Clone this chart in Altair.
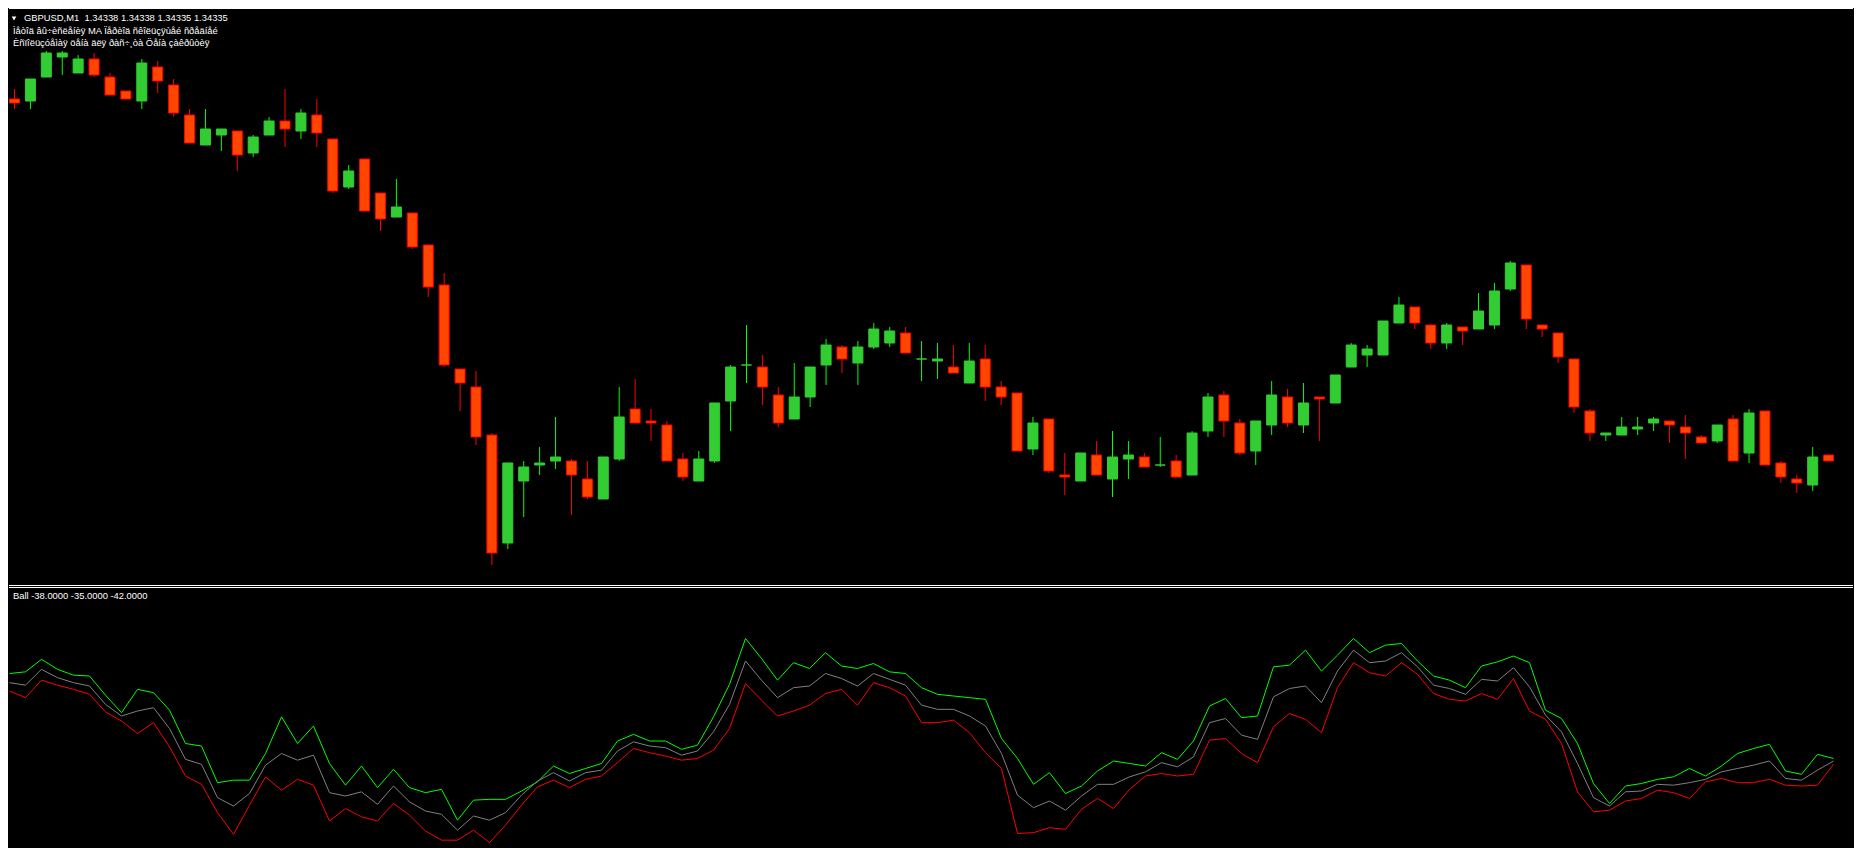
import altair as alt
import pandas as pd

# ---- GBPUSD M1 candles (prices) ----
opens = [1.34516,1.34515,1.34527,1.34537,1.34529,1.34536,1.34527,1.34520,1.34515,1.34532,
         1.34523,1.34508,1.34493,1.34498,1.34500,1.34489,1.34498,1.34505,1.34500,1.34508,
         1.34496,1.34472,1.34486,1.34469,1.34457,1.34459,1.34443,1.34423,1.34381,1.34372,
         1.34348,1.34294,1.34325,1.34333,1.34335,1.34335,1.34326,1.34316,1.34336,1.34361,
         1.34355,1.34353,1.34336,1.34325,1.34335,1.34365,1.34383,1.34382,1.34368,1.34356,
         1.34367,1.34383,1.34392,1.34384,1.34392,1.34394,1.34399,1.34386,1.34385,1.34382,
         1.34374,1.34386,1.34372,1.34369,1.34341,1.34356,1.34328,1.34325,1.34338,1.34326,
         1.34336,1.34337,1.34333,1.34335,1.34328,1.34350,1.34368,1.34354,1.34340,1.34353,
         1.34367,1.34353,1.34367,1.34364,1.34382,1.34388,1.34388,1.34404,1.34412,1.34403,
         1.34394,1.34402,1.34401,1.34403,1.34421,1.34433,1.34403,1.34399,1.34386,1.34360,
         1.34348,1.34348,1.34351,1.34354,1.34355,1.34352,1.34347,1.34345,1.34356,1.34339,
         1.34360,1.34334,1.34326,1.34323,1.34338]
highs = [1.34521,1.34526,1.34540,1.34540,1.34538,1.34539,1.34529,1.34520,1.34536,1.34535,
         1.34526,1.34511,1.34511,1.34501,1.34500,1.34498,1.34507,1.34521,1.34511,1.34516,
         1.34496,1.34483,1.34486,1.34469,1.34476,1.34459,1.34443,1.34429,1.34381,1.34380,
         1.34349,1.34334,1.34335,1.34342,1.34357,1.34336,1.34335,1.34337,1.34372,1.34376,
         1.34361,1.34355,1.34339,1.34340,1.34364,1.34383,1.34403,1.34388,1.34372,1.34384,
         1.34382,1.34396,1.34393,1.34395,1.34404,1.34402,1.34402,1.34395,1.34394,1.34393,
         1.34394,1.34393,1.34375,1.34369,1.34357,1.34356,1.34339,1.34339,1.34345,1.34350,
         1.34345,1.34339,1.34347,1.34338,1.34350,1.34369,1.34370,1.34356,1.34355,1.34375,
         1.34371,1.34374,1.34367,1.34378,1.34394,1.34393,1.34405,1.34417,1.34412,1.34403,
         1.34404,1.34402,1.34419,1.34424,1.34435,1.34433,1.34403,1.34399,1.34386,1.34361,
         1.34349,1.34357,1.34357,1.34357,1.34355,1.34358,1.34348,1.34353,1.34358,1.34361,
         1.34360,1.34335,1.34328,1.34342,1.34338]
lows = [1.34511,1.34511,1.34527,1.34528,1.34529,1.34527,1.34518,1.34516,1.34511,1.34519,
        1.34507,1.34494,1.34493,1.34490,1.34480,1.34487,1.34498,1.34492,1.34496,1.34492,
        1.34469,1.34471,1.34460,1.34450,1.34457,1.34441,1.34417,1.34382,1.34360,1.34343,
        1.34283,1.34291,1.34307,1.34328,1.34331,1.34308,1.34316,1.34316,1.34335,1.34354,
        1.34345,1.34335,1.34325,1.34325,1.34334,1.34350,1.34374,1.34363,1.34352,1.34356,
        1.34362,1.34373,1.34379,1.34373,1.34391,1.34392,1.34389,1.34375,1.34376,1.34379,
        1.34374,1.34365,1.34363,1.34340,1.34338,1.34329,1.34318,1.34325,1.34328,1.34317,
        1.34326,1.34332,1.34332,1.34327,1.34328,1.34347,1.34347,1.34338,1.34333,1.34348,
        1.34352,1.34349,1.34345,1.34364,1.34382,1.34382,1.34388,1.34404,1.34401,1.34391,
        1.34391,1.34393,1.34401,1.34401,1.34420,1.34401,1.34397,1.34384,1.34359,1.34345,
        1.34345,1.34348,1.34348,1.34350,1.34344,1.34336,1.34344,1.34344,1.34335,1.34334,
        1.34333,1.34324,1.34319,1.34320,1.34335]
closes = [1.34514,1.34526,1.34539,1.34539,1.34536,1.34528,1.34518,1.34516,1.34534,1.34525,
          1.34509,1.34494,1.34501,1.34501,1.34488,1.34497,1.34505,1.34501,1.34509,1.34499,
          1.34470,1.34480,1.34460,1.34456,1.34462,1.34442,1.34422,1.34383,1.34374,1.34347,
          1.34289,1.34334,1.34332,1.34334,1.34337,1.34328,1.34317,1.34337,1.34357,1.34354,
          1.34354,1.34335,1.34327,1.34336,1.34364,1.34382,1.34383,1.34372,1.34354,1.34367,
          1.34382,1.34393,1.34386,1.34392,1.34401,1.34400,1.34389,1.34386,1.34386,1.34379,
          1.34385,1.34372,1.34367,1.34340,1.34354,1.34330,1.34327,1.34339,1.34328,1.34337,
          1.34338,1.34332,1.34333,1.34327,1.34349,1.34367,1.34355,1.34339,1.34355,1.34368,
          1.34354,1.34364,1.34366,1.34378,1.34393,1.34391,1.34405,1.34413,1.34404,1.34394,
          1.34403,1.34400,1.34410,1.34420,1.34434,1.34406,1.34401,1.34387,1.34362,1.34349,
          1.34349,1.34352,1.34352,1.34356,1.34353,1.34349,1.34344,1.34353,1.34335,1.34359,
          1.34333,1.34327,1.34324,1.34337,1.34335]

# ---- "Ball" indicator bands ----
upper = [67,69,84,72,65,64,41,20,48,44,23,-17,-20,-64,-61,-61,-29,15,-17,4,
         -41,-67,-44,-70,-48,-70,-76,-72,-109,-85,
         -84,-84,-74,-63,-44,-53,-47,-41,-14,-6,-14,-14,-24,-19,15,54,109,85,59,80,
         73,92,76,73,79,69,67,50,42,
         40,38,36,-11,-35,-66,-52,-77,-68,-50,-38,-41,-44,-28,-36,-14,28,37,14,16,
         75,77,95,70,89,109,92,101,103,
         82,64,59,50,76,81,88,80,23,13,-17,-65,-89,-68,-65,-60,-57,-47,-56,-44,
         -29,-23,-18,-50,-54,-30,-35]
middle = [56,53,72,62,56,52,30,16,22,26,1,-36,-42,-82,-92,-77,-43,-29,-37,-31,
          -76,-80,-75,-90,-68,-87,-98,-102,-121,-104,
          -109,-100,-79,-62,-52,-62,-52,-49,-26,-15,-20,-22,-31,-26,-3,30,82,59,38,50,
          52,67,61,52,67,60,53,29,24,
          24,16,4,-29,-79,-94,-86,-97,-80,-66,-66,-57,-51,-40,-45,-33,8,13,-7,-12,
          39,49,52,32,70,95,80,82,92,
          75,53,49,42,60,58,74,51,17,-3,-41,-82,-92,-75,-74,-66,-67,-64,-60,-51,
          -47,-43,-38,-59,-61,-49,-38]
lower = [46,38,59,53,48,42,21,10,-5,8,-21,-56,-66,-100,-126,-91,-57,-73,-60,-67,
         -110,-95,-105,-110,-89,-103,-122,-133,-133,-121,
         -136,-115,-91,-69,-61,-70,-60,-56,-40,-23,-28,-32,-37,-35,-25,1,55,35,16,22,
         29,43,48,29,56,50,40,8,8,
         11,-4,-28,-47,-125,-124,-118,-120,-96,-83,-95,-72,-56,-53,-56,-54,-13,-11,-29,-40,
         3,19,12,-4,50,80,68,64,80,
         66,43,36,34,43,36,61,22,12,-17,-75,-99,-97,-86,-83,-73,-76,-83,-63,-59,
         -64,-64,-60,-67,-68,-67,-42]

symbol = "GBPUSD,M1"
info_line2 = "Ìåòîä âû÷èñëåíèÿ MA Ïåðèîä ñêîëüçÿùåé ñðåäíåé"
info_line3 = "Èñïîëüçóåìàÿ öåíà äëÿ ðàñ÷¸òà Öåíà çàêðûòèÿ"
ind_name = "Ball"

n = len(opens)
bars = pd.DataFrame({"i": list(range(n)), "open": opens, "high": highs,
                     "low": lows, "close": closes})
bars["dir"] = ["up" if c >= o else "down" for o, c in zip(opens, closes)]

bands = pd.concat([
    pd.DataFrame({"i": list(range(n)), "value": upper, "band": "upper"}),
    pd.DataFrame({"i": list(range(n)), "value": middle, "band": "middle"}),
    pd.DataFrame({"i": list(range(n)), "value": lower, "band": "lower"}),
])

W = 1844
H1 = 577
H2 = 263
FONT = "Liberation Sans"
FS = 9.4

xs = alt.Scale(domain=[-0.03125, -0.03125 + W / 16.0], nice=False, zero=False)
ys = alt.Scale(domain=[1.34273, 1.345615], nice=False, zero=False)
ys2 = alt.Scale(domain=[-142.4, 173.2], nice=False, zero=False)

X = alt.X("i:Q", scale=xs, axis=None)

wicks = alt.Chart(bars).mark_rule(strokeWidth=1, clip=True).encode(
    x=X,
    y=alt.Y("low:Q", scale=ys, axis=None),
    y2="high:Q",
    color=alt.Color("dir:N", scale=alt.Scale(domain=["up", "down"], range=["#00FF00", "#FF0000"]), legend=None),
)
bodies = alt.Chart(bars).mark_bar(size=10, strokeWidth=1, clip=True).encode(
    x=X,
    y=alt.Y("open:Q", scale=ys, axis=None),
    y2="close:Q",
    fill=alt.Fill("dir:N", scale=alt.Scale(domain=["up", "down"], range=["#32CD32", "#FF4500"]), legend=None),
    stroke=alt.Stroke("dir:N", scale=alt.Scale(domain=["up", "down"], range=["#32CD32", "#FF0000"]), legend=None),
)

header = f"{symbol}\u00a0 {opens[-1]:.5f} {highs[-1]:.5f} {lows[-1]:.5f} {closes[-1]:.5f}"
hdr_df = pd.DataFrame({"t": [header]})
hdr = alt.Chart(hdr_df).mark_text(align="left", baseline="middle", font=FONT, fontSize=FS, color="#FFFFFF").encode(
    x=alt.value(15), y=alt.value(9.5), text="t:N")
tri = alt.Chart(hdr_df).mark_point(shape="triangle-down", filled=True, size=22, color="#FFFFFF", opacity=1).encode(
    x=alt.value(5), y=alt.value(10.5))
l2 = alt.Chart(pd.DataFrame({"t": [info_line2]})).mark_text(align="left", baseline="middle", font=FONT, fontSize=FS, color="#FFFFFF").encode(
    x=alt.value(4), y=alt.value(22.5), text="t:N")
l3 = alt.Chart(pd.DataFrame({"t": [info_line3]})).mark_text(align="left", baseline="middle", font=FONT, fontSize=FS, color="#FFFFFF").encode(
    x=alt.value(4), y=alt.value(34.5), text="t:N")
top_border = alt.Chart(hdr_df).mark_rule(color="#FFFFFF", strokeWidth=1).encode(
    x=alt.value(0), x2=alt.value(W), y=alt.value(0.5))

top = alt.layer(wicks, bodies, top_border, tri, hdr, l2, l3).properties(width=W, height=H1)

lines = alt.Chart(bands).mark_line(strokeWidth=1, clip=True).encode(
    x=X,
    y=alt.Y("value:Q", scale=ys2, axis=None),
    stroke=alt.Stroke("band:N", scale=alt.Scale(domain=["upper", "middle", "lower"],
                                                range=["#00FF00", "#808080", "#FF0000"]), legend=None),
)
label = f"{ind_name} {middle[-1]:.4f} {upper[-1]:.4f} {lower[-1]:.4f}"
lab_df = pd.DataFrame({"t": [label]})
lab = alt.Chart(lab_df).mark_text(align="left", baseline="middle", font=FONT, fontSize=FS, color="#FFFFFF").encode(
    x=alt.value(4), y=alt.value(11), text="t:N")
sep1 = alt.Chart(lab_df).mark_rule(color="#FFFFFF", strokeWidth=1).encode(
    x=alt.value(0), x2=alt.value(W), y=alt.value(0.5))
sep2 = alt.Chart(lab_df).mark_rule(color="#FFFFFF", strokeWidth=1).encode(
    x=alt.value(0), x2=alt.value(W), y=alt.value(2.5))

bottom = alt.layer(lines, sep1, sep2, lab).properties(width=W, height=H2)

chart = alt.vconcat(top, bottom, spacing=0, bounds="flush").resolve_scale(
    color="independent", fill="independent", stroke="independent", y="independent"
).properties(
    padding=0, background="#000000"
).configure_view(stroke=None, fill="#000000")

chart.save("out.html", embed_options={"renderer": "svg", "actions": False})
